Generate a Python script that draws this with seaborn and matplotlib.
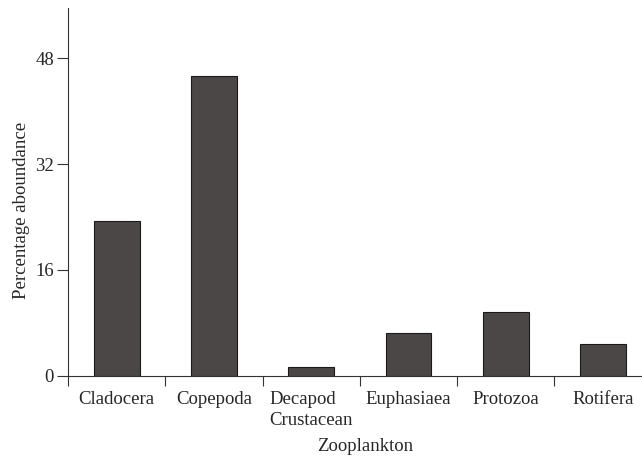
import matplotlib
matplotlib.use("Agg")
import matplotlib.pyplot as plt
import seaborn as sns
import pandas as pd
from matplotlib.ticker import FixedLocator

categories = ["Cladocera", "Copepoda", "Decapod\nCrustacean", "Euphasiaea", "Protozoa", "Rotifera"]
abundance = [23.4, 45.3, 1.3, 6.5, 9.6, 4.8]
yticks = [0, 16, 32, 48]

df = pd.DataFrame({"Zooplankton": categories, "Percentage abundance": abundance})

sns.set_style("ticks")
plt.rcParams["font.family"] = ["Liberation Serif", "DejaVu Serif"]
FS = 13.5

fig = plt.figure(figsize=(6.42, 4.58), dpi=100)
ax = fig.add_axes([68/642, 1 - 375.7/458, 1 - 68/642, (375.7 - 8)/458])

sns.barplot(data=df, x="Zooplankton", y="Percentage abundance", ax=ax,
            color="#4b4747", saturation=1, width=0.47,
            edgecolor="#1a1a1a", linewidth=0.8)

ax.set_xlim(-0.5, 5.4)
ax.set_ylim(0, 55.6)
ax.set_yticks(yticks)
ax.set_yticklabels([str(t) for t in yticks], fontsize=FS)
ax.tick_params(axis="y", length=8, width=0.8, color="#333333", pad=2)
ax.tick_params(axis="x", which="major", length=0, pad=11, labelsize=FS)
ax.xaxis.set_minor_locator(FixedLocator([i - 0.5 for i in range(len(categories) + 1)]))
ax.tick_params(axis="x", which="minor", length=7.5, width=0.8, color="#333333")
for lab in ax.get_xticklabels():
    lab.set_multialignment("left")
    lab.set_linespacing(1.3)

for s in ["top", "right"]:
    ax.spines[s].set_visible(False)
for s in ["left", "bottom"]:
    ax.spines[s].set_color("#333333")
    ax.spines[s].set_linewidth(0.8)

ax.set_xlabel("Zooplankton", fontsize=FS)
ax.set_ylabel("Percentage aboundance", fontsize=FS)
ax.xaxis.set_label_coords((365 - 68) / 574, -(438 - 375.7) / 367.7)
ax.yaxis.set_label_coords(-(68 - 30) / 574, (375.7 - 210) / 367.7)

fig.savefig("out.png", dpi=100)
